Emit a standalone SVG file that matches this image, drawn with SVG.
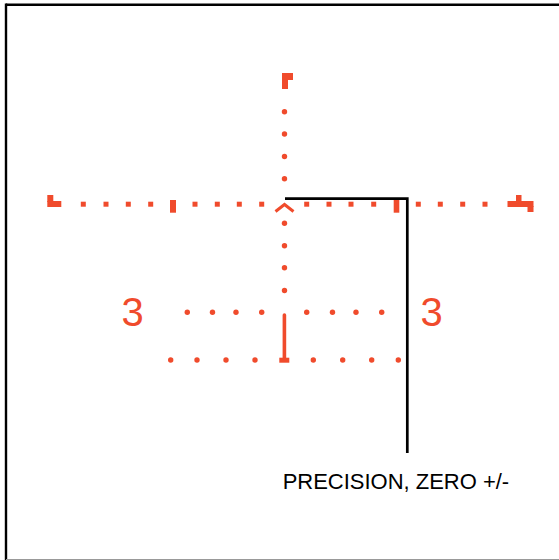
<svg xmlns="http://www.w3.org/2000/svg" width="559" height="560" viewBox="0 0 559 560">
<style>
.r{fill:#F04B2C}
.dot{fill:#F04B2C}
.num{font-family:"Liberation Sans",Arial,sans-serif;font-size:40px;fill:#F04B2C}
.lbl{font-family:"Liberation Sans",Arial,sans-serif;font-size:21.5px;fill:#000}
</style>
<rect x="0" y="0" width="559" height="560" fill="#fff"/>
<g id="frame">
<line x1="6" y1="4.7" x2="559" y2="4.7" stroke="#000" stroke-width="2.6"/>
<line x1="6" y1="3.5" x2="6" y2="560" stroke="#000" stroke-width="2.4"/>
<line x1="6" y1="559.5" x2="559" y2="559.5" stroke="#999" stroke-width="1"/>
</g>
<g id="reticle">
<rect class="r" x="282" y="73" width="6" height="16"/>
<rect class="r" x="282" y="73" width="11" height="7"/>
<g class="dot">
<circle cx="284.5" cy="111.7" r="2.7"/>
<circle cx="284.5" cy="134" r="2.7"/>
<circle cx="284.5" cy="156.5" r="2.7"/>
<circle cx="284.5" cy="178.8" r="2.7"/>
<circle cx="284.5" cy="223.3" r="2.7"/>
<circle cx="284.5" cy="245.7" r="2.7"/>
<circle cx="284.5" cy="267.8" r="2.7"/>
<circle cx="284.5" cy="290.5" r="2.7"/>
</g>
<polyline points="275.5,211.5 284.5,204.5 293.5,211.5" fill="none" stroke="#F04B2C" stroke-width="3"/>
<rect class="r" x="47.3" y="195" width="6" height="7"/>
<rect class="r" x="47.3" y="201" width="14" height="6"/>
<rect class="r" x="516" y="195" width="5.5" height="7"/>
<rect class="r" x="507.5" y="201" width="26" height="6"/>
<rect class="r" x="527.5" y="206" width="6" height="6"/>
<g class="r">
<rect x="80.8" y="201.7" width="5" height="5"/>
<rect x="103.5" y="201.7" width="5" height="5"/>
<rect x="125.8" y="201.7" width="5" height="5"/>
<rect x="148.2" y="201.7" width="5" height="5"/>
<rect x="170" y="200" width="6" height="12.7"/>
<rect x="192.5" y="201.7" width="5" height="5"/>
<rect x="214.8" y="201.7" width="5" height="5"/>
<rect x="236.8" y="201.7" width="5" height="5"/>
<rect x="259.2" y="201.7" width="5" height="5"/>
<rect x="304.2" y="201.7" width="5" height="5"/>
<rect x="326.5" y="201.7" width="5" height="5"/>
<rect x="348.5" y="201.7" width="5" height="5"/>
<rect x="371.2" y="201.7" width="5" height="5"/>
<rect x="393.7" y="200" width="5.6" height="12.7"/>
<rect x="415.8" y="201.7" width="5" height="5"/>
<rect x="437.8" y="201.7" width="5" height="5"/>
<rect x="460.2" y="201.7" width="5" height="5"/>
<rect x="482.5" y="201.7" width="5" height="5"/>
</g>
<g class="dot">
<circle cx="187.3" cy="312.3" r="2.7"/>
<circle cx="212.5" cy="312.3" r="2.7"/>
<circle cx="236" cy="312.3" r="2.7"/>
<circle cx="261.7" cy="312.3" r="2.7"/>
<circle cx="306.7" cy="312.3" r="2.7"/>
<circle cx="332.5" cy="312.3" r="2.7"/>
<circle cx="356" cy="312.3" r="2.7"/>
<circle cx="381.7" cy="312.3" r="2.7"/>
</g>
<g class="dot">
<circle cx="170.7" cy="360" r="2.7"/>
<circle cx="197" cy="360" r="2.7"/>
<circle cx="226" cy="360" r="2.7"/>
<circle cx="255" cy="360" r="2.7"/>
<circle cx="313.3" cy="360" r="2.7"/>
<circle cx="342.7" cy="360" r="2.7"/>
<circle cx="371.7" cy="360" r="2.7"/>
<circle cx="398.3" cy="360" r="2.7"/>
</g>
<line x1="284.4" y1="315" x2="284.4" y2="360" stroke="#F04B2C" stroke-width="3.6" stroke-linecap="round"/>
<rect class="r" x="279.3" y="357.7" width="10" height="5"/>
</g>
<g id="label-3-left"><text class="num" x="121.5" y="325.5">3</text></g>
<g id="label-3-right"><text class="num" x="420.5" y="325.5">3</text></g>
<g id="connectors">
<polyline points="285,198.7 407.3,198.7 407.3,453" fill="none" stroke="#000" stroke-width="2.7"/>
</g>
<g id="label-precision"><text class="lbl" x="282.7" y="488.5" textLength="226.5" lengthAdjust="spacingAndGlyphs">PRECISION, ZERO +/-</text></g>
</svg>
